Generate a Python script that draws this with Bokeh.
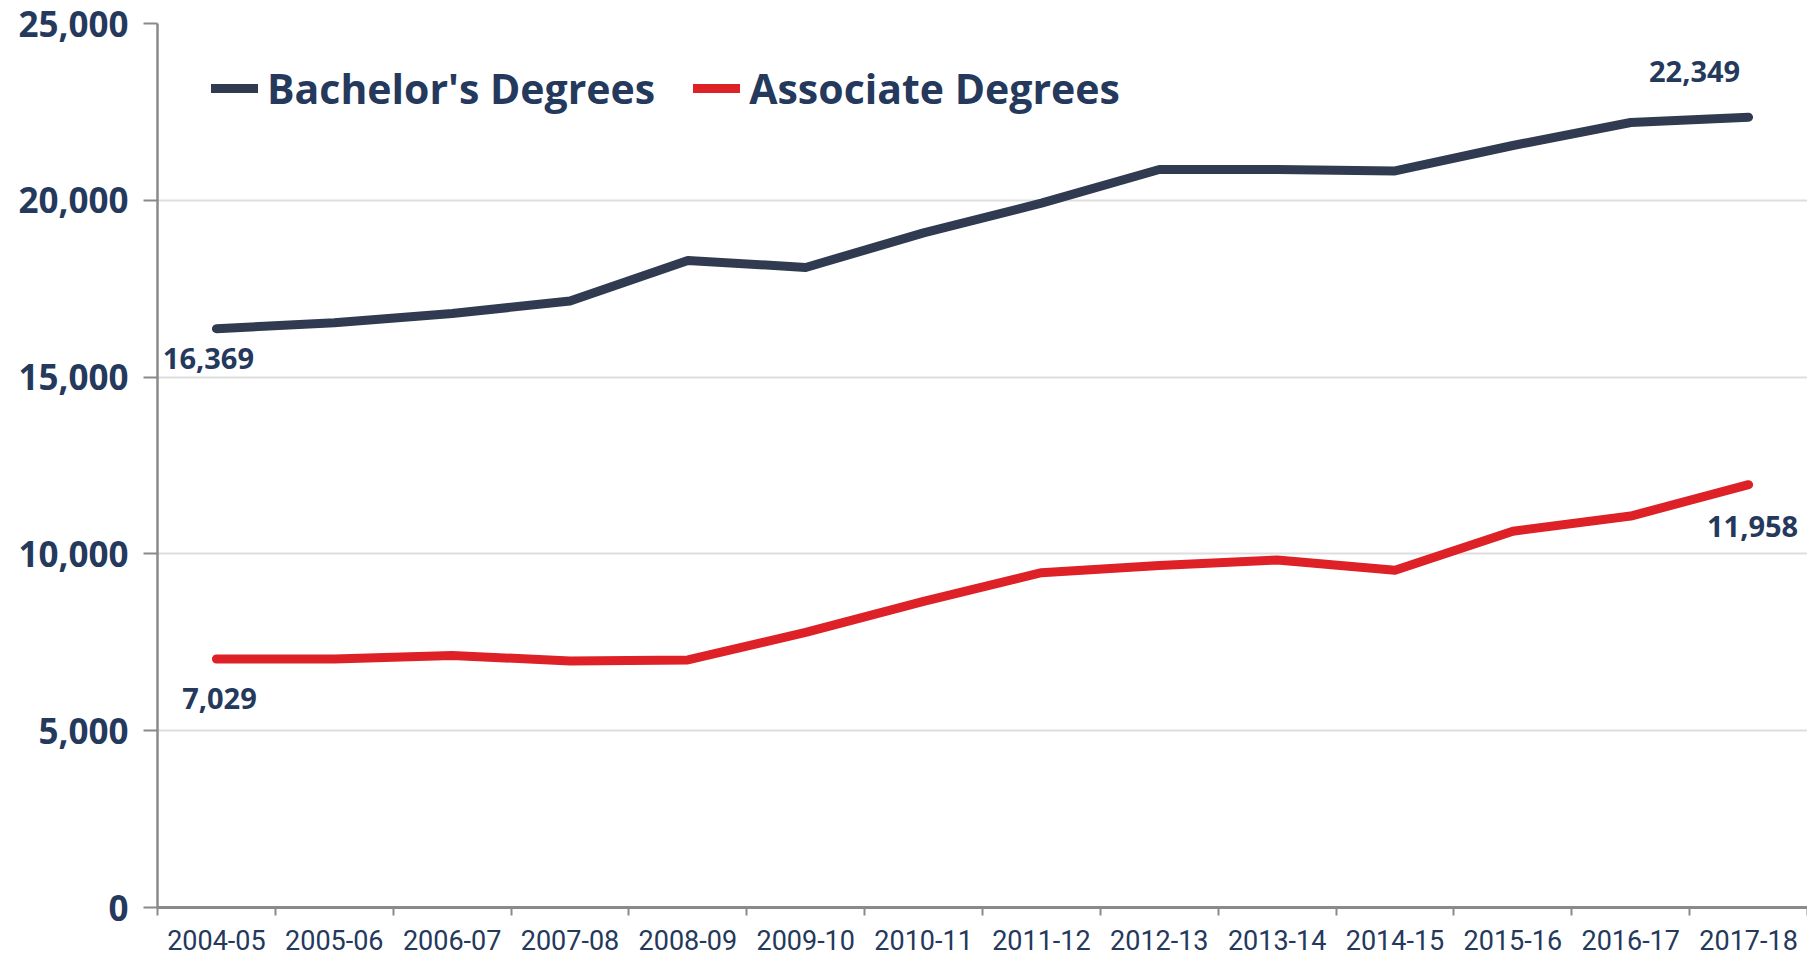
from bokeh.plotting import figure
from bokeh.models import FixedTicker, Legend, LegendItem, NumeralTickFormatter
from bokeh.core.properties import value
from bokeh.embed import file_html
from bokeh.resources import INLINE

years = ["2004-05", "2005-06", "2006-07", "2007-08", "2008-09", "2009-10", "2010-11",
         "2011-12", "2012-13", "2013-14", "2014-15", "2015-16", "2016-17", "2017-18"]
bachelors = [16369, 16540, 16800, 17150, 18300, 18100, 19080, 19920, 20870, 20870, 20830, 21550, 22200, 22349]
associates = [7029, 7030, 7130, 6970, 7000, 7780, 8660, 9470, 9670, 9830, 9540, 10640, 11070, 11958]
y_ticks = [0, 5000, 10000, 15000, 20000, 25000]

NAVY = "#24395c"
BLUE_LINE = "#303a50"
RED_LINE = "#de2027"
W, H = 1807, 961
TOP, BOTTOM, LEFT, RIGHT = 23, 54, 157, 0

xs = list(range(len(years)))

p = figure(width=W, height=H, output_backend="svg", toolbar_location=None,
           x_range=(-0.5, len(years) - 0.5), y_range=(0, 25000),
           min_border_left=LEFT, min_border_right=RIGHT, min_border_top=TOP, min_border_bottom=BOTTOM)
p.outline_line_color = None
p.background_fill_color = "white"
p.border_fill_color = "white"

# x axis: labels at category centres, tick marks at category boundaries
p.xaxis.ticker = FixedTicker(ticks=xs, minor_ticks=[i - 0.5 for i in range(len(years) + 1)])
p.xaxis.major_label_overrides = {i: y for i, y in enumerate(years)}
p.xaxis.major_tick_line_color = None
p.xaxis.minor_tick_line_color = "#8a8a8a"
p.xaxis.minor_tick_line_width = 2
p.xaxis.minor_tick_out = 8
p.xaxis.minor_tick_in = 0
p.xaxis.axis_line_color = "#8a8a8a"
p.xaxis.axis_line_width = 3
p.xaxis.major_label_text_font = "Roboto"
p.xaxis.major_label_text_font_size = "27px"
p.xaxis.major_label_text_font_style = "normal"
p.xaxis.major_label_text_color = NAVY
p.xaxis.major_label_standoff = 14

p.yaxis.ticker = FixedTicker(ticks=y_ticks, minor_ticks=[])
p.yaxis.formatter = NumeralTickFormatter(format="0,0")
p.yaxis.major_tick_out = 14
p.yaxis.major_tick_in = 0
p.yaxis.major_tick_line_color = "#8a8a8a"
p.yaxis.major_tick_line_width = 2
p.yaxis.axis_line_color = "#8a8a8a"
p.yaxis.axis_line_width = 2.5
p.yaxis.major_label_text_font = "Open Sans"
p.yaxis.major_label_text_font_size = "35px"
p.yaxis.major_label_text_font_style = "bold"
p.yaxis.major_label_text_color = NAVY
p.yaxis.major_label_standoff = 15

p.xgrid.visible = False
p.ygrid.ticker = FixedTicker(ticks=y_ticks, minor_ticks=[])
p.ygrid.grid_line_color = "#dedede"
p.ygrid.grid_line_width = 2

b = p.line(xs, bachelors, line_width=9, line_color=BLUE_LINE, line_cap="round", line_join="round")
a = p.line(xs, associates, line_width=9, line_color=RED_LINE, line_cap="round", line_join="round")

lab = dict(text_font=value("Open Sans"), text_font_size="29px", text_font_style="bold",
           text_color=NAVY, text_align="center", text_baseline="middle")
p.text(x=[xs[0]], y=[bachelors[0]], text=[f"{bachelors[0]:,}"], x_offset=-8, y_offset=30, **lab)
p.text(x=[xs[-1]], y=[bachelors[-1]], text=[f"{bachelors[-1]:,}"], x_offset=-54, y_offset=-46, **lab)
p.text(x=[xs[0]], y=[associates[0]], text=[f"{associates[0]:,}"], x_offset=3, y_offset=40, **lab)
p.text(x=[xs[-1]], y=[associates[-1]], text=[f"{associates[-1]:,}"], x_offset=4, y_offset=42, **lab)

frame_h = H - TOP - BOTTOM
legend = Legend(items=[LegendItem(label="Bachelor's Degrees", renderers=[b]),
                       LegendItem(label="Associate Degrees", renderers=[a])],
                orientation="horizontal", location=(54, frame_h - 93),
                glyph_width=47, glyph_height=50, label_height=50, label_standoff=9,
                spacing=38, padding=0, margin=0,
                border_line_color=None, background_fill_alpha=0,
                label_text_font="Open Sans", label_text_font_size="41px",
                label_text_font_style="bold", label_text_color=NAVY)
p.add_layout(legend, "center")

open("out.html", "w").write(file_html(p, INLINE))
